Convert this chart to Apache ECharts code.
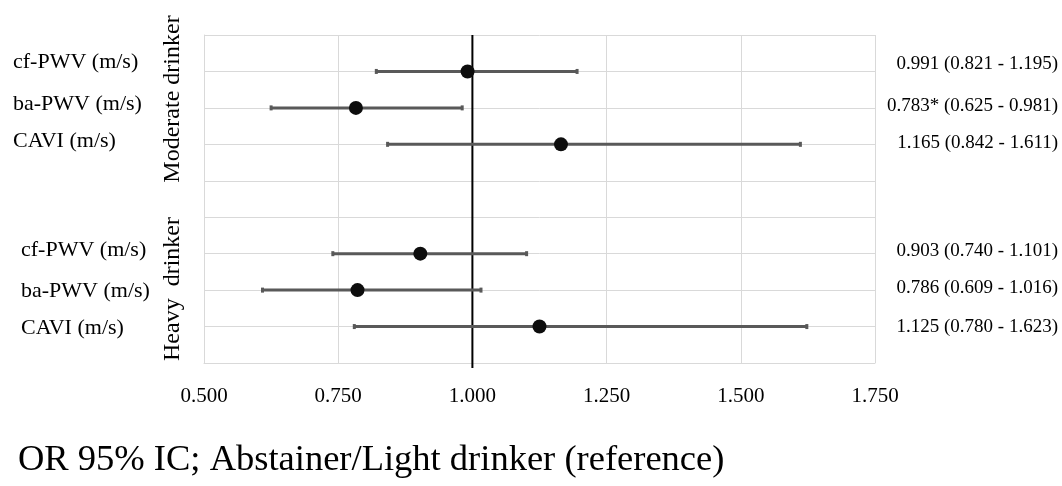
<!DOCTYPE html>
<html>
<head>
<meta charset="utf-8">
<script src="https://cdn.jsdelivr.net/npm/echarts@6/dist/echarts.min.js"></script>
<style>
html,body{margin:0;padding:0;background:#fff;}
#chart{width:1062px;height:486px;}
</style>
</head>
<body>
<div id="chart"></div>
<script>
// ---- data ----
const outcomes = ['cf-PWV (m/s)', 'ba-PWV (m/s)', 'CAVI (m/s)'];
const groups = ['Moderate drinker', 'Heavy  drinker'];
const orModerate = [0.991, 0.783, 1.165];
const loModerate = [0.821, 0.625, 0.842];
const hiModerate = [1.195, 0.981, 1.611];
const sigModerate = [false, true, false];
const orHeavy = [0.903, 0.786, 1.125];
const loHeavy = [0.740, 0.609, 0.780];
const hiHeavy = [1.101, 1.016, 1.623];
const sigHeavy = [false, false, false];
const rowModerate = [8, 7, 6];
const rowHeavy = [3, 2, 1];
const xTicks = [0.5, 0.75, 1.0, 1.25, 1.5, 1.75];
const referenceOR = 1.0;
const footnote = 'OR 95% IC; Abstainer/Light drinker (reference)';

// ---- build ----
const FONT = '"Liberation Serif", "Times New Roman", serif';
const rows = [];
outcomes.forEach((o, i) => rows.push({name: o, g: 0, y: rowModerate[i], or: orModerate[i], lo: loModerate[i], hi: hiModerate[i], sig: sigModerate[i]}));
outcomes.forEach((o, i) => rows.push({name: o, g: 1, y: rowHeavy[i], or: orHeavy[i], lo: loHeavy[i], hi: hiHeavy[i], sig: sigHeavy[i]}));

const yLabelMap = {};
rows.forEach(r => { yLabelMap[r.y] = r; });
// small vertical nudges for the left / right labels (layout only)
const labelShift = {8: -9, 7: -4, 6: -3, 3: -3, 2: 1, 1: 2};
const rightShift = {8: -7, 7: -2, 6: -1, 3: -3, 2: -2, 1: 0};

const fmt = v => v.toFixed(3);
const rowText = r => fmt(r.or) + (r.sig ? '*' : '') + ' (' + fmt(r.lo) + ' - ' + fmt(r.hi) + ')';

const rich = {};
Object.keys(labelShift).forEach(k => {
  const s = labelShift[k];
  const r = yLabelMap[k];
  rich['r' + k] = {
    fontFamily: FONT, fontSize: 22, color: '#000',
    padding: [s > 0 ? 2 * s : 0, 0, s < 0 ? -2 * s : 0, r.g === 1 ? 8 : 0]
  };
});

const chart = echarts.init(document.getElementById('chart'), null, {renderer: 'canvas'});
const xMin = xTicks[0], xMax = xTicks[xTicks.length - 1];
const yMin = 0, yMax = 9;

const option = {
  backgroundColor: '#fff',
  animation: false,
  grid: {left: 204, right: 187, top: 35, height: 328, containLabel: false},
  xAxis: {
    type: 'value', min: xMin, max: xMax, interval: xTicks[1] - xTicks[0],
    axisLine: {show: true, lineStyle: {color: '#d9d9d9', width: 1}},
    axisTick: {show: false},
    splitLine: {show: true, lineStyle: {color: '#d9d9d9', width: 1}},
    axisLabel: {formatter: v => v.toFixed(3), fontFamily: FONT, fontSize: 21, color: '#000', margin: 23}
  },
  yAxis: {
    type: 'value', min: yMin, max: yMax, interval: 1,
    axisLine: {show: true, lineStyle: {color: '#d9d9d9', width: 1}},
    axisTick: {show: false},
    splitLine: {show: true, lineStyle: {color: '#d9d9d9', width: 1}},
    axisLabel: {
      align: 'left', margin: 191,
      formatter: v => yLabelMap[v] ? '{r' + v + '|' + yLabelMap[v].name + '}' : '',
      rich: rich
    }
  },
  graphic: [
    {type: 'text', x: 173, y: 99, rotation: Math.PI / 2,
     style: {text: groups[0], font: '24px ' + FONT, fill: '#000', textAlign: 'center', textVerticalAlign: 'middle'}},
    {type: 'text', x: 173, y: 289, rotation: Math.PI / 2,
     style: {text: groups[1], font: '24px ' + FONT, fill: '#000', textAlign: 'center', textVerticalAlign: 'middle'}},
    {type: 'text', x: 18, y: 460,
     style: {text: footnote, font: '36.5px ' + FONT, fill: '#000', textAlign: 'left', textVerticalAlign: 'middle'}}
  ],
  series: [
    { // reference line at OR = 1
      type: 'custom', z: 3,
      data: [[referenceOR]],
      renderItem: (params, api) => {
        const top = api.coord([api.value(0), yMax]);
        const bot = api.coord([api.value(0), yMin]);
        return {type: 'line', shape: {x1: top[0], y1: top[1], x2: bot[0], y2: bot[1] + 5},
                style: {stroke: '#000', lineWidth: 2}};
      }
    },
    { // confidence intervals
      type: 'custom', z: 4,
      data: rows.map(r => [r.lo, r.hi, r.y]),
      renderItem: (params, api) => {
        const a = api.coord([api.value(0), api.value(2)]);
        const b = api.coord([api.value(1), api.value(2)]);
        const st = {stroke: '#595959', lineWidth: 3};
        return {type: 'group', children: [
          {type: 'line', shape: {x1: a[0], y1: a[1], x2: b[0], y2: b[1]}, style: st},
          {type: 'line', shape: {x1: a[0], y1: a[1] - 2.5, x2: a[0], y2: a[1] + 2.5}, style: st},
          {type: 'line', shape: {x1: b[0], y1: b[1] - 2.5, x2: b[0], y2: b[1] + 2.5}, style: st}
        ]};
      }
    },
    { // point estimates
      type: 'scatter', z: 5,
      symbol: 'circle', symbolSize: 14,
      itemStyle: {color: '#0d0d0d', opacity: 1},
      data: rows.map(r => [r.or, r.y])
    },
    { // right-hand text
      type: 'custom', z: 5,
      data: rows.map((r, i) => [xMax, r.y, i]),
      renderItem: (params, api) => {
        const p = api.coord([api.value(0), api.value(1)]);
        const r = rows[api.value(2)];
        return {type: 'text', x: p[0] + 183, y: p[1] + (rightShift[r.y] || 0),
                style: {text: rowText(r), font: '19px ' + FONT, fill: '#000', textAlign: 'right', textVerticalAlign: 'middle'}};
      }
    }
  ]
};
chart.setOption(option);
</script>
</body>
</html>
